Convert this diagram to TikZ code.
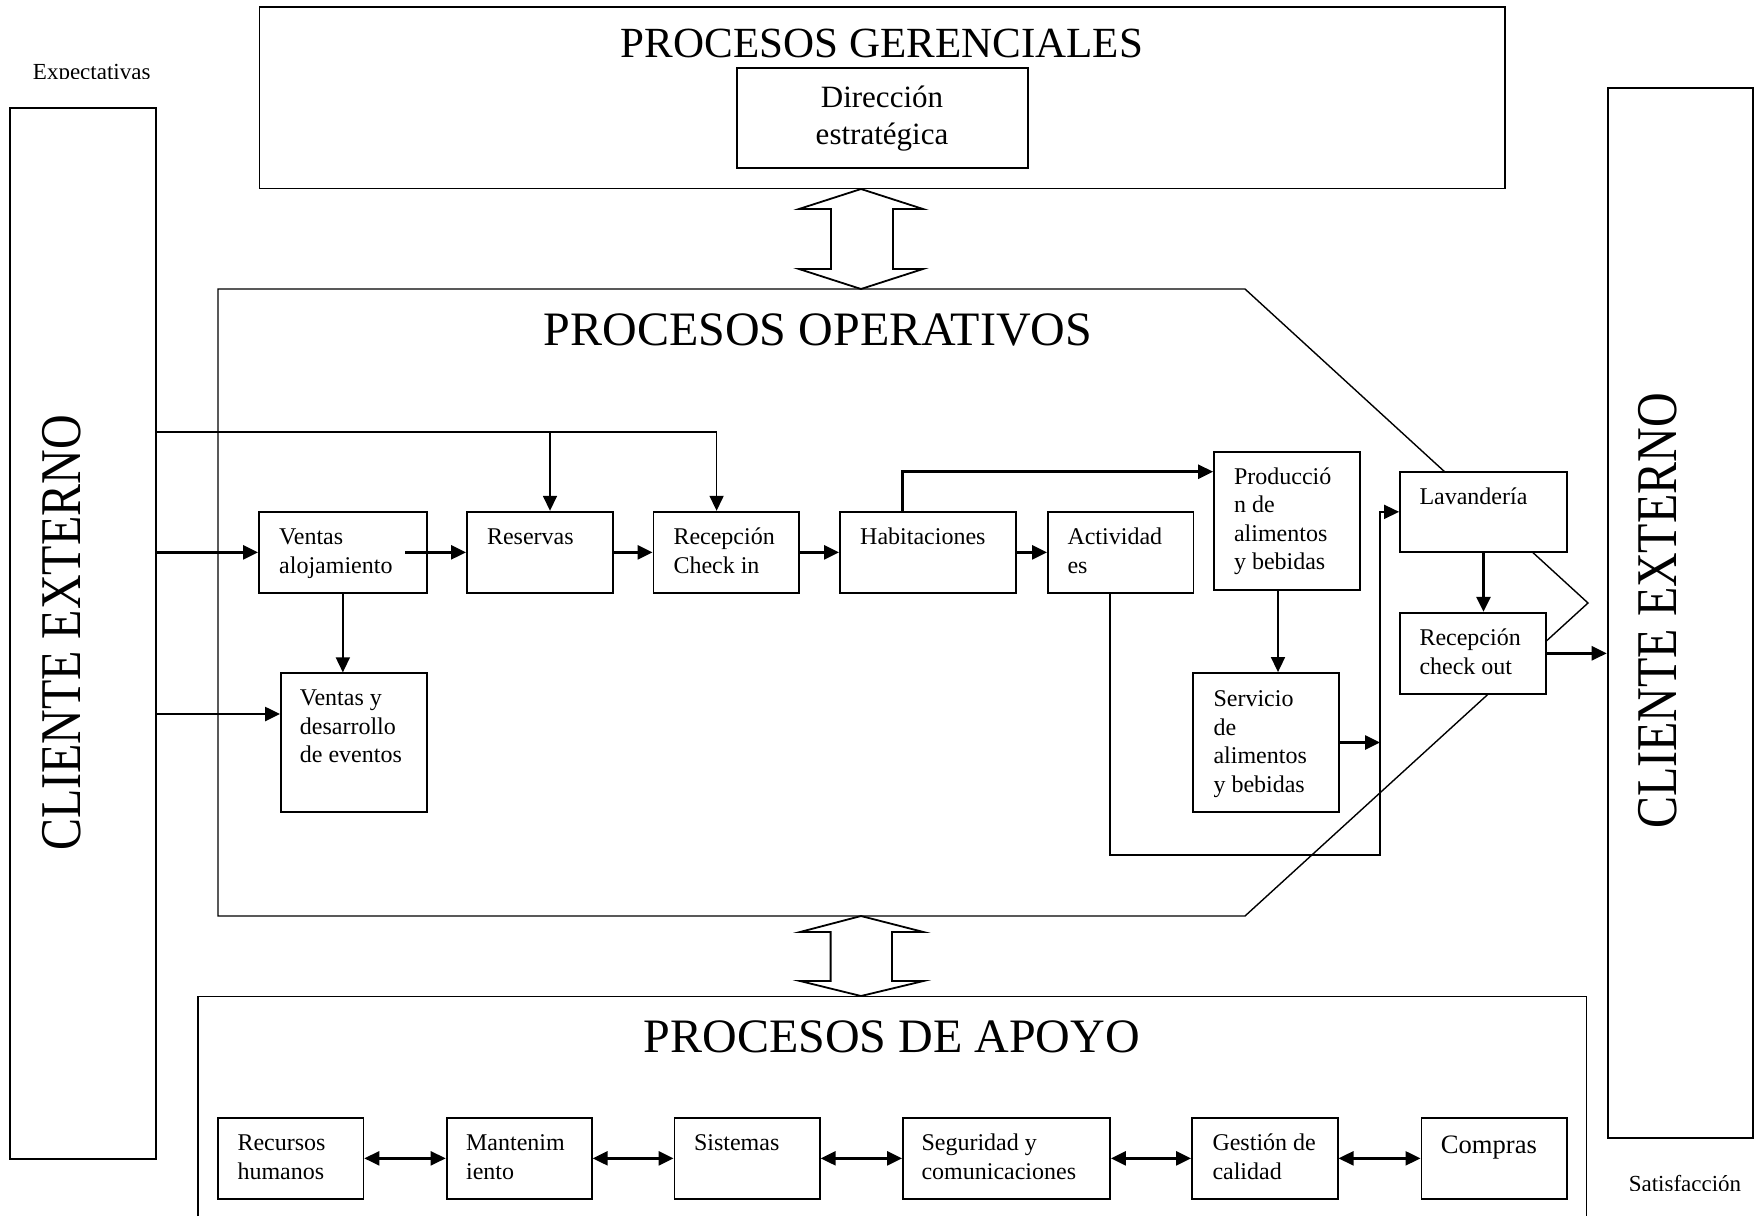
\documentclass[tikz,border=0pt]{standalone}
\usepackage{fontspec}
\setmainfont{Liberation Serif}
\usetikzlibrary{arrows.meta,fit,calc}
\newcommand{\boxlines}[1]{\begin{tabular}[t]{@{}l@{}}#1\end{tabular}}
\newcommand{\boxlinesc}[1]{\begin{tabular}[t]{@{}c@{}}#1\end{tabular}}
\begin{document}
\begin{tikzpicture}[x=0.5pt,y=-0.5pt,
  box/.style={draw,line width=0.9pt,fill=white,inner sep=0pt},
  lbl/.style={inner sep=0pt,anchor=base west,font=\fontsize{12}{14.25}\selectfont},
  heading/.style={inner sep=0pt,anchor=base,font=\fontsize{24}{28}\selectfont},
  side/.style={inner sep=0pt,rotate=90,font=\fontsize{24}{28}\selectfont},
  note/.style={inner sep=0pt,anchor=base,font=\fontsize{11.5}{13}\selectfont},
  flow/.style={line width=1.3pt,-{Triangle[length=7.5pt,width=7pt]}},
  thinflow/.style={line width=0.8pt,-{Triangle[length=7.5pt,width=7pt]}},
  link/.style={line width=1.2pt,{Triangle[length=7.5pt,width=7pt]}-{Triangle[length=7.5pt,width=7pt]}},
  blockarrow/.style={draw,line width=0.9pt,fill=white,line join=miter}]

\useasboundingbox (0,0) rectangle (1757,1216);

% outline of the operational area
\draw[line width=0.7pt] (218,289) -- (1245,289) -- (1588,603) -- (1245,916) -- (218,916) -- cycle;

% support area (open at the lower edge)
\draw[line width=0.9pt] (198,1216) -- (198,996.5) -- (1586.5,996.5) -- (1586.5,1216);

% external client columns
\node[box,fit={(10.3,107.7)(156,1159.3)}] (clientL) {};
\node[box,fit={(1607.6,88)(1753,1138.3)}] (clientR) {};
\node[side] (t-clientL) at (61.6,633) {\scalebox{1}[1.2]{CLIENTE EXTERNO}};
\node[side] (t-clientR) at (1658,611) {\scalebox{1}[1.2]{CLIENTE EXTERNO}};

% expectations / satisfaction captions (trimmed at the baseline)
\begin{scope}
  \clip (0,0) rectangle (250,78.5);
  \node[note] (expect) at (91.7,79.5) {Expectativas};
\end{scope}
\begin{scope}
  \clip (1600,1100) rectangle (1757,1190.5);
  \node[note] (satisf) at (1685,1191.5) {Satisfacción};
\end{scope}

% management processes
\node[box,fit={(259.5,7)(1505,188.5)}] (gerencial) {};
\node[heading,font=\fontsize{21.5}{26}\selectfont] (t-gerencial) at (882,57) {PROCESOS GERENCIALES};
\node[box,fit={(736.6,67.7)(1027.7,167.7)}] (direccion) {};
\node[inner sep=0pt,anchor=base,font=\fontsize{15.5}{18.6}\selectfont] (t-direccion) at (882,107.3) {\boxlinesc{Dirección\\estratégica}};

% double block arrows between the levels
\draw[blockarrow] (861,189) -- (923,209) -- (893,209) -- (893,269) -- (923,269) -- (861,289) -- (799,269) -- (831,269) -- (831,209) -- (799,209) -- cycle;
\draw[blockarrow] (861,916) -- (923.5,932) -- (892,932) -- (892,981) -- (923.5,981) -- (861,996) -- (800,981) -- (830.6,981) -- (830.6,932) -- (800,932) -- cycle;

% headings of the lower levels
\node[heading] (t-operativos) at (818,345) {PROCESOS OPERATIVOS};
\node[heading] (t-apoyo) at (891.7,1052) {PROCESOS DE APOYO};

% operational process boxes
\node[box,fit={(259,511.7)(426.7,593)}] (ventas) {};
\node[box,fit={(466.9,511.7)(612.7,593)}] (reservas) {};
\node[box,fit={(653.5,511.7)(799,593)}] (checkin) {};
\node[box,fit={(840,511.7)(1016,593)}] (habit) {};
\node[box,fit={(1048,511.7)(1193.5,593)}] (activ) {};
\node[box,fit={(1214,452)(1360,590)}] (produc) {};
\node[box,fit={(1193,673)(1339,812)}] (servicio) {};
\node[box,fit={(1400,471.7)(1567,552)}] (lavand) {};
\node[box,fit={(1400,612.7)(1546,694)}] (checkout) {};
\node[box,fit={(280.9,673.3)(426.7,812.3)}] (eventos) {};

\node[lbl] (t-ventas) at ([shift={(20.7,34)}]ventas.north west) {\boxlines{Ventas\\alojamiento}};
\node[lbl] (t-reservas) at ([shift={(20.6,34)}]reservas.north west) {Reservas};
\node[lbl] (t-checkin) at ([shift={(20.5,34)}]checkin.north west) {\boxlines{Recepción\\Check in}};
\node[lbl] (t-habit) at ([shift={(20.7,34)}]habit.north west) {Habitaciones};
\node[lbl] (t-activ) at ([shift={(20,34)}]activ.north west) {\boxlines{Actividad\\es}};
\node[lbl] (t-produc) at ([shift={(20.5,33)}]produc.north west) {\boxlines{Producció\\n de\\alimentos\\y bebidas}};
\node[lbl] (t-servicio) at ([shift={(21,34.5)}]servicio.north west) {\boxlines{Servicio\\de\\alimentos\\y bebidas}};
\node[lbl] (t-lavand) at ([shift={(20,33.5)}]lavand.north west) {Lavandería};
\node[lbl] (t-checkout) at ([shift={(20,34)}]checkout.north west) {\boxlines{Recepción\\check out}};
\node[lbl] (t-eventos) at ([shift={(19.5,33.5)}]eventos.north west) {\boxlines{Ventas y\\desarrollo\\de eventos}};

% support process boxes
\node[box,fit={(218,1117.7)(363.4,1199)}] (recursos) {};
\node[box,fit={(446.6,1117.7)(591.8,1199)}] (manten) {};
\node[box,fit={(674.5,1117.7)(819.8,1199)}] (sistemas) {};
\node[box,fit={(903,1117.7)(1110,1199)}] (segur) {};
\node[box,fit={(1192,1117.7)(1337.6,1199)}] (gestion) {};
\node[box,fit={(1421.4,1117.7)(1567,1199)}] (compras) {};

\node[lbl] (t-recursos) at ([shift={(20,34)}]recursos.north west) {\boxlines{Recursos\\humanos}};
\node[lbl] (t-manten) at ([shift={(20,34)}]manten.north west) {\boxlines{Mantenim\\iento}};
\node[lbl] (t-sistemas) at ([shift={(20,34)}]sistemas.north west) {Sistemas};
\node[lbl] (t-segur) at ([shift={(19,34)}]segur.north west) {\boxlines{Seguridad y\\comunicaciones}};
\node[lbl] (t-gestion) at ([shift={(21,34)}]gestion.north west) {\boxlines{Gestión de\\calidad}};
\node[lbl,font=\fontsize{13.3}{16}\selectfont] (t-compras) at ([shift={(20,36.5)}]compras.north west) {Compras};

% connectors from the client into the operations
\coordinate (busR) at (716.6,431.7);
\coordinate (busM) at (550,431.7);
\draw[line width=0.8pt] (clientL.east |- busR) -- (busR);
\draw[thinflow] (busR) -- (busR |- checkin.north);
\draw[thinflow] (busM) -- (busM |- reservas.north);
\draw[flow] (clientL.east |- ventas.west) -- (ventas.west);
\coordinate (evin) at ([yshift=14.4pt]eventos.west);
\draw[flow] (clientL.east |- evin) -- (evin);

% main operational flow
\draw[flow] ([xshift=-11.3pt]ventas.east) -- (reservas.west);
\draw[flow] (reservas.east) -- (checkin.west);
\draw[flow] (checkin.east) -- (habit.west);
\draw[flow] (habit.east) -- (activ.west);
\draw[thinflow] (ventas.south) -- (ventas.south |- eventos.north);
\coordinate (hp) at (902.6,471.7);
\draw[flow] (hp |- habit.north) -- (hp) -- (hp -| produc.west);
\coordinate (ps) at ([xshift=-4.5pt]produc.south);
\draw[thinflow] (ps) -- (ps |- servicio.north);
\coordinate (loopA) at (1110,855);
\coordinate (loopB) at (1380,855);
\draw[thinflow] (loopA |- activ.south) -- (loopA) -- (loopB) -- (loopB |- lavand.west) -- (lavand.west);
\draw[flow] (servicio.east) -- (servicio.east -| loopB);
\draw[flow] (lavand.south) -- (lavand.south |- checkout.north);
\draw[flow] (checkout.east) -- (checkout.east -| clientR.west);

% support links
\draw[link] (recursos.east) -- (manten.west);
\draw[link] (manten.east) -- (sistemas.west);
\draw[link] (sistemas.east) -- (segur.west);
\draw[link] (segur.east) -- (gestion.west);
\draw[link] (gestion.east) -- (compras.west);

\end{tikzpicture}
\end{document}
